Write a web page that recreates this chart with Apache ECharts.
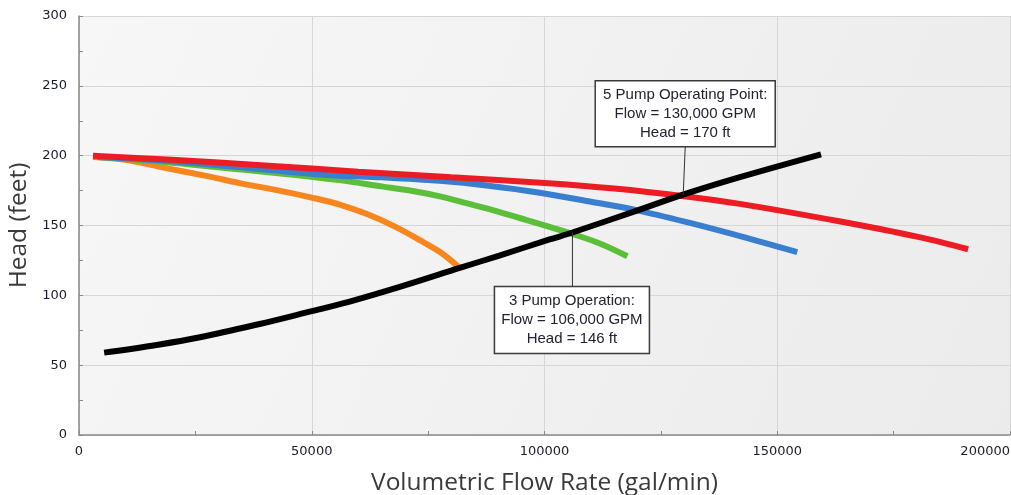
<!DOCTYPE html>
<html>
<head>
<meta charset="utf-8">
<script src="https://cdn.jsdelivr.net/npm/echarts@6/dist/echarts.min.js"></script>
<style>
html,body{margin:0;padding:0;background:#fff;}
#c{width:1011px;height:495px;}
</style>
</head>
<body>
<div id="c"></div>
<script>
// Data (flow gal/min, head ft)
var systemCurve = [[5400,59],[16700,64.5],[26000,70],[38800,79.5],[47400,86.5],[58150,95.5],[68900,106],[81800,119.6],[90300,128.5],[101100,140],[106000,145],[119700,160.5],[129600,172],[141800,184.5],[159400,201]];
var pump5 = [[3000,200],[20000,197],[40000,193],[60000,188.5],[80000,184.5],[100000,180.5],[115000,176.5],[130000,171],[142000,165.5],[163300,153],[180000,142],[191000,133]];
var pump4 = [[3900,199],[20000,196],[40000,190],[54000,186],[65000,184.5],[77500,182],[88000,178.5],[99000,173.5],[110000,167],[119700,161],[131000,152],[143000,141.5],[154300,131]];
var pump3 = [[3900,199],[20000,195],[35000,190],[49600,185],[56000,182.5],[65000,178],[72000,174.5],[78000,170.5],[83200,166],[90000,160],[96000,154],[101100,149],[106000,144],[112000,137],[117800,128]];
var pump2 = [[3000,199],[10000,197],[17400,192],[28100,185],[35000,180],[43000,175],[50000,170],[56000,165],[62000,158],[68000,149],[74000,138],[78000,130],[81800,119.5]];
var xTicks = [0,50000,100000,150000,200000];
var yTicks = [0,50,100,150,200,250,300];
var annotations = [
  {point:[129800,172], lines:['5 Pump Operating Point:','Flow = 130,000 GPM','Head = 170 ft'], dx:-88, dy:-114, w:180, h:66},
  {point:[106000,145], lines:['3 Pump Operation:','Flow = 106,000 GPM','Head = 146 ft'], dx:-78, dy:54, w:155, h:67}
];

var chart = echarts.init(document.getElementById('c'));
function ser(data,color,z){
  return {type:'line',data:data,smooth:0.35,showSymbol:false,symbol:'none',z:z,
    lineStyle:{color:color,width:6,cap:'butt'}};
}
var option = {
  animation:false,
  grid:{left:79,right:1,top:16,bottom:60,containLabel:false,outerBoundsMode:'none',show:true,borderWidth:0,
    backgroundColor:new echarts.graphic.LinearGradient(0,0,1,1,[{offset:0,color:'#f7f7f7'},{offset:1,color:'#ebebeb'}])},
  xAxis:{type:'value',min:xTicks[0],max:xTicks[xTicks.length-1],interval:50000,
    name:'Volumetric Flow Rate (gal/min)',nameLocation:'middle',nameGap:36,
    nameTextStyle:{fontFamily:'Open Sans',fontSize:24.5,color:'#3a3a3a'},
    axisLine:{lineStyle:{color:'#8a8a8a',width:1.5}},
    axisTick:{show:true,inside:true,length:4,lineStyle:{color:'#8a8a8a'}},
    minorTick:{show:true,splitNumber:2,length:4,lineStyle:{color:'#8a8a8a'}},
    axisLabel:{fontFamily:'DejaVu Sans',fontSize:13,color:'#1a1a2e',margin:10,alignMaxLabel:'right',
      formatter:function(v){return String(v);}},
    splitLine:{show:true,lineStyle:{color:'#d6d6d6',width:1}}},
  yAxis:{type:'value',min:yTicks[0],max:yTicks[yTicks.length-1],interval:50,
    name:'Head (feet)',nameLocation:'middle',nameGap:46,nameRotate:90,
    nameTextStyle:{fontFamily:'Open Sans',fontSize:24.5,color:'#3a3a3a'},
    axisLine:{show:true,lineStyle:{color:'#8a8a8a',width:1.5}},
    axisTick:{show:true,inside:true,length:4,lineStyle:{color:'#8a8a8a'}},
    minorTick:{show:true,splitNumber:2,length:4,lineStyle:{color:'#8a8a8a'}},
    axisLabel:{fontFamily:'DejaVu Sans',fontSize:13,color:'#1a1a2e',margin:12,
      formatter:function(v){return String(v);}},
    splitLine:{show:true,lineStyle:{color:'#d6d6d6',width:1}}},
  series:[
    ser(systemCurve,'#000000',6),
    ser(pump5,'#ec1c24',5),
    ser(pump4,'#3a7fcf',4),
    ser(pump3,'#5cbf3a',3),
    ser(pump2,'#f7861e',2)
  ]
};
chart.setOption(option);

var g = [];
annotations.forEach(function(a){
  var p = chart.convertToPixel({gridIndex:0},a.point);
  var bx = p[0]+a.dx, by = p[1]+a.dy;
  var lineEndY = a.dy<0 ? by+a.h : by;
  g.push({type:'line',z:100,shape:{x1:p[0],y1:p[1],x2:p[0]+(a.dy<0?2:0),y2:lineEndY},style:{stroke:'#333',lineWidth:1}});
  g.push({type:'rect',z:101,shape:{x:bx,y:by,width:a.w,height:a.h},style:{fill:'#ffffff',stroke:'#3a3a3a',lineWidth:1.5}});
  g.push({type:'text',z:102,style:{x:bx+a.w/2,y:by+a.h/2,text:a.lines.join('\n'),align:'center',verticalAlign:'middle',
    font:'15px "Liberation Sans", Arial, sans-serif',lineHeight:19,fill:'#222233'}});
});
chart.setOption({graphic:g});
</script>
</body>
</html>
